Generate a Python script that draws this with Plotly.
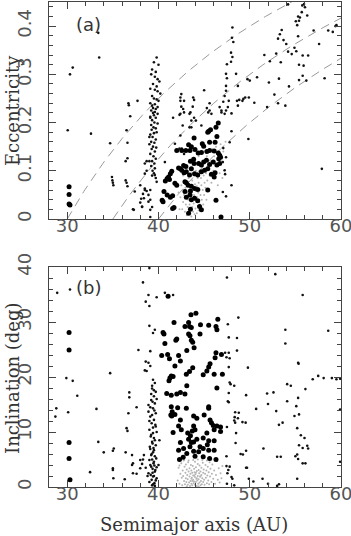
import numpy as np
import plotly.graph_objects as go

# ---------------- DATA ----------------
# Panel (a): semimajor axis (AU) vs eccentricity
a_big_x = [30.2,30.2,30.3,30.2,46.55,46.3,45.7,45.5,45.4,43.9,46.4,46.2,43.3,43.6,44.8,44.95,45.6,44.0,42.0,42.55,43.0,43.45,44.35,44.7,45.3,45.6,46.1,46.55,46.7,46.8,43.85,43.5,43.9,43.0,42.75,42.4,42.2,44.4,44.7,44.95,45.25,45.6,46.0,46.4,46.7,46.6,41.45,41.3,41.1,40.95,40.75,41.2,42.55,42.8,43.05,43.4,43.6,43.95,44.3,44.7,45.05,45.4,46.1,45.8,46.2,41.8,42.0,42.9,43.05,43.25,43.6,43.95,44.3,43.5,42.9,45.4,43.45,43.05,43.6,43.95,44.3,40.6,40.95,40.4,41.3,41.55,46.3,41.55,41.7,43.5,43.3,44.5,44.7,46.85,40.5]
a_big_e = [0.067,0.051,0.029,0.031,0.199,0.19,0.185,0.182,0.18,0.168,0.171,0.159,0.154,0.15,0.156,0.151,0.159,0.144,0.142,0.142,0.142,0.142,0.137,0.138,0.14,0.142,0.141,0.137,0.132,0.128,0.124,0.12,0.115,0.109,0.111,0.104,0.106,0.115,0.112,0.118,0.122,0.113,0.118,0.112,0.115,0.125,0.099,0.094,0.087,0.084,0.079,0.082,0.101,0.096,0.098,0.091,0.104,0.094,0.091,0.098,0.101,0.104,0.087,0.093,0.096,0.074,0.07,0.077,0.075,0.07,0.068,0.063,0.061,0.058,0.057,0.06,0.05,0.045,0.04,0.043,0.038,0.057,0.05,0.039,0.045,0.048,0.039,0.022,0.024,0.02,0.012,0.026,0.019,0.004,0.036]

a_small_x = [30.3,30.6,30.05,33.4,33.5,32.6,34.7,34.9,34.95,35.0,35.05,36.5,36.7,36.75,36.9,36.6,36.6,36.4,36.4,36.5,36.6,37.7,37.4,37.2,38.0,38.1,38.3,38.5,38.7,38.9,39.1,39.3,39.1,38.7,38.5,38.7,38.0,38.2,38.5,
             40.7,39.6,39.8,39.1,38.5,38.4,38.2,39.1,37.3,38.9,
             39.8,39.5,40.0,39.3,39.7,39.2,39.6,39.9,40.1,39.4,39.8,39.1,39.6,39.9,40.2,39.3,39.5,39.8,40.0,39.1,39.6,39.3,39.9,39.4,39.7,39.2,39.6,39.4,39.9,39.5,39.1,39.7,39.3,39.55,39.9,39.2,39.45,39.7,39.25,39.8,39.5,39.1,39.35,39.7,39.2,39.55,39.0,39.4,39.75,39.25,39.6,39.1,39.45,39.7,39.3,39.55,39.2,39.6,39.35,39.5,39.3,39.7,39.0,39.1,39.0,
             42.5,42.4,42.4,42.8,42.5,42.7,42.4,42.8,43.8,43.9,43.75,43.5,45.0,45.6,45.3,45.45,45.8,46.7,46.9,47.25,47.4,47.6,47.7,47.1,47.25,47.4,47.4,47.4,47.5,47.5,47.95,48.1,47.95,48.05,48.2,48.1,48.5,48.7,48.6,48.7,49.2,41.6,42.3,43.4,43.9,42.4,41.8,42.3,42.55,42.8,43.6,44.1,44.7,45.6,46.9,48.0,47.1,47.4,47.05,47.25,47.3,47.8,48.0,47.05,42.65,43.6,43.4,48.0,47.4,48.85,49.3,
             55.76,56.05,55.95,54.2,55.3,55.5,55.7,56.3,55.05,55.4,55.2,57.0,58.6,59.1,59.5,59.4,53.5,53.3,53.1,53.7,54.0,55.3,54.9,55.1,54.6,54.2,55.8,56.4,57.6,52.9,52.2,53.4,51.6,55.4,55.9,55.8,56.2,55.4,58.2,53.2,52.1,50.8,49.75,50.0,54.3,52.7,49.5,49.9,50.5,53.1,51.9,53.9,49.85,57.9]
a_small_e = [0.30,0.314,0.184,0.386,0.335,0.177,0.157,0.087,0.08,0.075,0.07,0.184,0.24,0.236,0.213,0.158,0.126,0.12,0.08,0.075,0.068,0.245,0.057,0.02,0.034,0.042,0.052,0.063,0.058,0.05,0.04,0.025,0.004,0.12,0.094,0.1,0.07,0.025,0.115,
             0.118,0.091,0.077,0.06,0.06,0.043,0.026,0.019,0.019,0.036,
             0.335,0.325,0.32,0.31,0.305,0.30,0.295,0.29,0.285,0.28,0.275,0.27,0.268,0.265,0.26,0.255,0.25,0.248,0.245,0.24,0.238,0.235,0.232,0.23,0.228,0.225,0.222,0.22,0.218,0.215,0.212,0.21,0.205,0.2,0.198,0.195,0.19,0.188,0.185,0.18,0.178,0.175,0.17,0.165,0.16,0.158,0.155,0.15,0.148,0.145,0.14,0.135,0.13,0.125,0.12,0.115,0.11,0.105,0.1,0.095,0.09,0.085,0.17,0.21,0.12,
             0.259,0.252,0.245,0.245,0.233,0.228,0.218,0.221,0.252,0.247,0.233,0.221,0.267,0.24,0.23,0.221,0.218,0.232,0.225,0.218,0.225,0.232,0.245,0.243,0.255,0.266,0.276,0.301,0.292,0.321,0.326,0.336,0.345,0.376,0.367,0.397,0.301,0.276,0.245,0.235,0.245,0.21,0.216,0.218,0.21,0.173,0.156,0.146,0.146,0.135,0.19,0.204,0.194,0.225,0.221,0.219,0.147,0.128,0.118,0.101,0.093,0.159,0.182,0.056,0.194,0.204,0.19,0.07,0.047,0.247,0.249,
             0.443,0.439,0.446,0.445,0.42,0.418,0.429,0.422,0.41,0.411,0.402,0.391,0.391,0.388,0.402,0.4,0.392,0.383,0.374,0.371,0.363,0.379,0.355,0.348,0.342,0.347,0.339,0.339,0.363,0.343,0.327,0.325,0.34,0.32,0.318,0.297,0.287,0.288,0.292,0.291,0.283,0.294,0.29,0.287,0.275,0.258,0.252,0.252,0.241,0.24,0.232,0.235,0.166,0.104]

a_gray_x = [42.6,42.7,42.8,42.9,42.95,43.0,43.05,43.1,43.1,43.15,43.2,43.25,43.3,43.3,43.35,43.4,43.45,43.5,43.5,43.55,43.6,43.6,43.65,43.7,43.7,43.75,43.8,43.8,43.85,43.9,43.9,43.95,44.0,44.0,44.05,44.1,44.1,44.15,44.2,44.2,44.25,44.3,44.3,44.35,44.4,44.4,44.45,44.5,44.5,44.55,44.6,44.65,44.7,44.7,44.75,44.8,44.85,44.9,44.95,45.0,45.05,45.1,45.15,45.2,45.25,45.3,45.35,45.4,45.5,45.55,45.6,45.7,45.8,45.9,46.0,46.1,46.2,46.3,46.4,46.5,46.6,46.7,46.8,46.9,47.0,47.1,47.2,47.35,42.4,42.5,42.3,42.2,42.7,43.0,43.4,43.9,44.4,44.9]
a_gray_e = [0.02,0.035,0.05,0.015,0.065,0.03,0.045,0.008,0.075,0.055,0.025,0.04,0.085,0.012,0.06,0.03,0.048,0.018,0.07,0.038,0.095,0.005,0.055,0.025,0.08,0.042,0.015,0.065,0.032,0.05,0.09,0.01,0.04,0.072,0.022,0.058,0.1,0.035,0.012,0.068,0.045,0.085,0.027,0.055,0.018,0.075,0.04,0.1,0.06,0.03,0.05,0.085,0.02,0.07,0.04,0.11,0.06,0.03,0.09,0.05,0.075,0.12,0.065,0.095,0.04,0.13,0.08,0.11,0.06,0.14,0.09,0.12,0.075,0.145,0.1,0.13,0.085,0.15,0.11,0.07,0.14,0.095,0.155,0.12,0.085,0.14,0.1,0.16,0.045,0.07,0.02,0.055,0.09,0.1,0.105,0.12,0.13,0.14]

# constant-perihelion curves q = a(1-e)
q_values = [30, 35, 40]

# Panel (b): semimajor axis (AU) vs inclination (deg)
b_big_x = [30.2,30.2,30.2,30.2,30.3,
           41.05,41.7,40.5,40.6,42.0,41.9,40.7,40.35,41.0,41.2,42.2,41.8,41.4,41.6,41.25,41.15,40.9,41.4,42.0,41.4,41.5,41.8,41.35,41.45,41.6,42.2,42.1,42.2,42.3,
           43.56,44.1,43.3,42.9,43.4,43.6,44.6,45.5,46.5,46.3,46.4,43.3,43.45,43.6,43.75,44.55,43.9,43.1,42.4,46.3,46.9,46.2,45.65,45.5,45.3,44.9,43.75,43.4,43.05,46.1,47.0,43.1,46.4,42.4,42.9,45.5,45.5,43.05,43.85,44.2,45.0,45.65,45.8,46.0,46.4,46.8,43.85,43.7,44.0,42.4,42.5,46.1,46.8,45.3,44.9,43.2,43.5,43.3,43.6,43.85,44.2,45.5,46.1,42.4,44.55,44.9,45.35,43.45,42.75,43.85,44.4,45.5,46.1,43.1,44.0,44.9,45.6,46.3,42.7]
b_big_i = [28.1,24.9,8.1,5.2,1.3,
           34.7,29.9,28.1,27.8,26.9,26.7,26.1,23.9,24.1,23.3,23.9,22.0,20.2,20.1,19.8,19.3,17.0,16.7,16.9,14.6,13.7,13.2,13.1,12.9,9.9,11.1,14.4,6.7,5.0,
           31.3,31.6,29.9,29.2,29.2,29.0,29.5,29.4,30.5,29.2,28.6,27.8,27.5,26.7,26.3,27.8,25.3,24.8,22.9,24.4,24.1,23.5,22.4,21.8,21.1,20.4,21.7,21.0,20.5,20.5,20.5,18.4,18.0,17.2,16.9,14.6,14.3,14.3,12.9,12.5,13.1,12.2,11.7,11.2,11.1,10.9,11.1,10.2,10.4,12.2,10.4,10.4,10.1,9.8,8.9,9.8,9.3,8.7,8.1,8.2,8.7,8.4,8.4,8.1,7.3,7.0,7.7,7.3,7.0,6.5,6.4,6.7,6.7,6.1,5.6,5.5,5.2,5.0,5.4]

b_small_x = [28.9,30.3,28.8,28.7,29.9,30.6,31.1,30.1,32.5,33.2,33.4,34.0,34.7,35.0,35.1,35.0,35.0,35.05,36.3,36.4,36.5,36.6,36.7,36.8,36.8,37.1,37.1,37.2,37.6,37.8,38.0,38.2,38.3,38.0,38.3,38.6,38.9,39.0,39.8,40.7,41.6,39.0,38.6,38.5,37.6,37.2,38.4,38.8,38.6,
             39.0,39.6,39.4,39.1,38.7,39.1,38.9,39.4,39.6,39.3,39.7,39.5,39.2,38.9,39.6,39.4,38.9,39.7,39.1,39.5,39.25,39.7,39.0,39.4,39.15,39.6,39.35,39.05,39.5,39.2,39.75,39.0,39.45,39.2,39.65,38.9,39.4,39.8,39.25,39.55,39.3,
             39.3,39.5,39.2,39.8,39.35,39.1,39.55,39.3,39.0,39.65,39.4,39.8,39.2,39.5,39.3,39.7,39.1,39.4,39.6,39.3,39.5,39.1,39.8,39.35,39.6,39.15,39.5,39.7,39.0,39.4,39.6,39.45,39.25,39.55,39.35,40.0,40.1,
             47.5,48.75,47.6,47.7,48.6,48.6,47.3,47.7,47.45,47.8,47.7,49.8,47.8,47.9,48.3,47.7,49.6,47.6,47.7,48.4,48.8,48.35,48.7,48.3,48.4,49.55,47.5,48.5,48.45,49.6,47.45,49.0,47.45,47.8,47.65,47.55,49.6,48.0,48.1,49.9,47.5,48.3,
             52.8,55.8,53.9,58.6,53.9,55.3,55.35,56.9,57.5,58.1,59.0,59.5,59.9,54.1,54.5,56.1,51.9,52.6,55.3,54.1,52.0,55.1,50.7,52.9,55.4,54.9,49.2,53.6,53.2,55.2,55.6,56.0,55.4,56.3,56.4,55.8,51.5,49.25,53.0,53.4,55.0,55.2,55.3,55.8,56.1,59.9,59.9,51.4,55.2,50.4,52.0,53.0,53.2,49.7]
b_small_i = [35.3,35.9,14.3,12.8,19.8,19.3,16.6,13.6,2.7,14.2,8.2,6.3,20.7,6.6,7.0,3.4,3.1,1.6,1.4,6.3,10.7,10.2,13.4,17.2,16.3,5.8,4.0,2.5,14.5,24.9,4.9,4.2,5.0,3.4,37.2,33.7,34.9,32.9,34.5,35.3,34.9,39.8,22.8,21.2,2.4,4.3,5.8,2.0,3.5,
             29.3,28.6,28.0,24.7,21.1,22.0,22.6,19.5,18.9,17.9,17.3,16.5,15.8,14.9,15.2,14.3,13.7,13.4,12.8,12.2,11.6,11.0,10.4,9.8,9.2,8.5,7.9,7.3,6.7,5.8,5.2,4.9,4.3,3.7,3.1,2.5,1.9,1.6,1.3,0.7,0.3,
             18.4,17.6,16.9,16.0,15.5,14.5,13.9,13.1,12.0,11.3,10.8,10.0,9.5,8.9,8.2,7.6,6.9,6.3,5.6,5.0,4.6,4.0,3.6,3.3,2.8,2.2,2.0,1.2,0.9,0.5,0.2,7.1,6.0,3.9,2.6,4.0,8.5,
             38.1,30.8,29.6,27.2,27.1,24.8,24.4,24.4,23.6,23.4,21.8,21.7,19.0,18.7,18.4,17.1,16.7,15.6,15.4,13.6,13.5,12.7,12.5,12.1,11.7,11.7,10.9,9.8,8.0,6.6,5.6,6.0,3.8,3.7,3.1,2.5,3.5,1.8,1.5,1.5,0.6,0.3,
             38.7,34.9,28.6,28.4,26.1,22.6,22.4,19.6,20.2,19.8,19.8,19.6,19.7,18.7,18.4,17.8,17.0,17.2,16.2,15.6,15.1,14.7,14.2,13.8,13.2,12.9,11.8,11.7,11.3,10.7,9.4,8.9,7.6,7.5,7.0,7.1,7.0,5.9,5.5,5.5,5.6,5.9,5.1,4.3,4.3,4.6,14.1,1.5,1.5,1.0,0.6,0.2,0.5,3.5]

b_gray_x = [42.1,42.2,42.3,42.4,42.5,42.55,42.6,42.65,42.7,42.75,42.8,42.85,42.9,42.95,43.0,43.0,43.05,43.1,43.15,43.2,43.2,43.25,43.3,43.35,43.4,43.4,43.45,43.5,43.5,43.55,43.6,43.6,43.65,43.7,43.7,43.75,43.8,43.8,43.85,43.9,43.9,43.95,44.0,44.0,44.0,44.05,44.1,44.1,44.15,44.2,44.2,44.25,44.3,44.3,44.35,44.4,44.4,44.45,44.5,44.5,44.55,44.6,44.6,44.65,44.7,44.7,44.75,44.8,44.85,44.9,44.9,44.95,45.0,45.05,45.1,45.15,45.2,45.25,45.3,45.35,45.4,45.45,45.5,45.55,45.6,45.65,45.7,45.8,45.85,45.9,46.0,46.1,46.2,46.3,46.4,46.5,46.6,46.7,46.8,46.9,47.0,42.3,42.8,43.3,43.8,44.3,44.8,45.3,45.8,43.1,43.6,44.1,44.2,43.9,44.4,43.7,44.6]
b_gray_i = [1.2,3.5,0.6,2.4,4.3,1.7,0.3,3.0,2.0,4.8,1.1,3.7,0.5,2.6,1.6,4.1,0.9,3.2,2.2,0.4,1.4,4.5,2.8,0.8,1.9,3.4,0.2,2.4,1.1,4.0,0.6,3.0,1.7,2.6,0.3,3.8,1.3,2.1,0.7,3.3,1.0,2.7,0.4,1.8,4.6,2.3,0.9,3.6,1.5,0.2,2.9,1.2,4.2,2.0,0.6,3.1,1.4,2.5,0.8,3.9,1.9,0.3,2.8,1.1,3.5,2.2,0.5,1.6,4.4,2.6,0.9,3.2,1.3,0.4,2.4,4.0,1.7,3.0,0.7,2.1,3.7,1.2,2.7,0.5,4.5,1.9,3.3,0.9,2.4,4.1,1.5,3.0,0.6,2.2,4.7,1.3,3.4,0.8,2.5,1.6,3.8,3.9,4.9,4.8,4.9,5.0,4.9,4.8,5.0,0.1,1.5,2.6,1.6,2.1,0.1,1.1,1.9]

x_ticks = [30, 40, 50, 60]
e_ticks = [0, 0.1, 0.2, 0.3, 0.4]
e_ticktext = ["0", "0.1", "0.2", "0.3", "0.4"]
i_ticks = [0, 10, 20, 30, 40]

for u, v in [(a_big_x, a_big_e), (a_small_x, a_small_e), (a_gray_x, a_gray_e),
             (b_big_x, b_big_i), (b_small_x, b_small_i), (b_gray_x, b_gray_i)]:
    assert len(u) == len(v), (len(u), len(v))

# ---------------- FIGURE ----------------
fig = go.Figure()

for q in q_values:
    aa = np.linspace(q, 60, 200)
    fig.add_trace(go.Scatter(x=aa, y=1 - q / aa, mode="lines",
                             line=dict(color="#9a9a9a", width=1, dash="9px,6px"),
                             hoverinfo="skip", xaxis="x", yaxis="y"))

def pts(x, y, size, color, ax, ay):
    fig.add_trace(go.Scatter(x=x, y=y, mode="markers",
                             marker=dict(size=size, color=color, line=dict(width=0)),
                             xaxis=ax, yaxis=ay))

pts(a_gray_x, a_gray_e, 2, "#b4b4b4", "x", "y")
pts(a_small_x, a_small_e, 2.6, "#111", "x", "y")
pts(a_big_x, a_big_e, 5, "#000", "x", "y")
pts(b_gray_x, b_gray_i, 2, "#b4b4b4", "x2", "y2")
pts(b_small_x, b_small_i, 2.6, "#111", "x2", "y2")
pts(b_big_x, b_big_i, 5, "#000", "x2", "y2")

tickfont = dict(family="DejaVu Sans", size=18, color="#555")
common = dict(showline=True, linecolor="#444", linewidth=1, mirror="allticks",
              ticks="inside", ticklen=7, tickcolor="#444", showgrid=False,
              zeroline=False, tickfont=tickfont, automargin=False)
minor_x = dict(dtick=2, tick0=0, ticks="inside", ticklen=4, tickcolor="#444")

fig.update_layout(
    width=351, height=536,
    margin=dict(l=49, r=10, t=2, b=49),
    paper_bgcolor="white", plot_bgcolor="white",
    showlegend=False,
    xaxis=dict(domain=[0, 1], range=[28, 60], anchor="y", tickvals=x_ticks,
               ticklabeloverflow="allow", ticklabelstandoff=-10, minor=minor_x, **common),
    yaxis=dict(domain=[0.5526, 1], range=[0, 0.45], anchor="x", tickvals=e_ticks,
               ticktext=e_ticktext, tickangle=-90, ticklabelstandoff=10,
               ticklabeloverflow="allow",
               minor=dict(dtick=0.02, tick0=0, ticks="inside", ticklen=4, tickcolor="#444"), **common),
    xaxis2=dict(domain=[0, 1], range=[28, 60], anchor="y2", tickvals=x_ticks,
                ticklabeloverflow="allow", ticklabelstandoff=-10, minor=minor_x, **common),
    yaxis2=dict(domain=[0, 0.4536], range=[0, 40], anchor="x2", tickvals=i_ticks,
                tickangle=-90, ticklabelstandoff=10, ticklabeloverflow="allow",
                minor=dict(dtick=2, tick0=0, ticks="inside", ticklen=4, tickcolor="#444"), **common),
)

title_font = dict(family="DejaVu Serif", size=18, color="#333")
fig.add_annotation(text="Eccentricity", xref="paper", yref="paper", x=-0.127, y=0.777,
                   textangle=-90, showarrow=False, font=title_font, xanchor="center", yanchor="middle")
fig.add_annotation(text="Inclination (deg)", xref="paper", yref="paper", x=-0.127, y=0.2247,
                   textangle=-90, showarrow=False, font=title_font, xanchor="center", yanchor="middle")
fig.add_annotation(text="Semimajor axis (AU)", xref="paper", yref="paper", x=0.495, y=-0.0763,
                   showarrow=False, font=title_font, xanchor="center", yanchor="middle")
fig.add_annotation(text="(a)", xref="x", yref="y", x=32.3, y=0.404, showarrow=False,
                   font=dict(family="DejaVu Sans", size=18, color="#333"))
fig.add_annotation(text="(b)", xref="x2", yref="y2", x=32.3, y=36.2, showarrow=False,
                   font=dict(family="DejaVu Sans", size=18, color="#333"))

fig.write_html("out.html", config={"displayModeBar": False},
               post_script="document.body.style.margin='0';document.body.style.overflow='hidden';")
